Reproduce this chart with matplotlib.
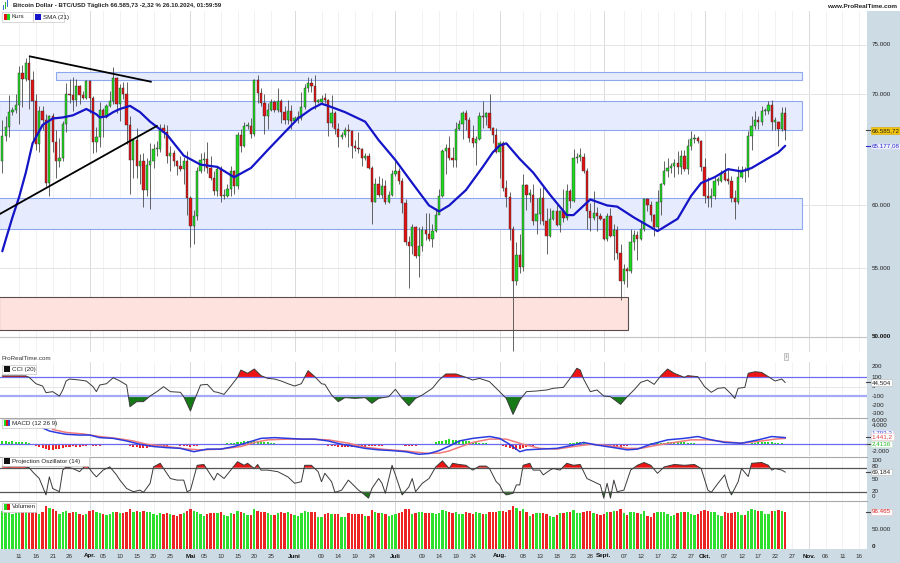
import numpy as np
import matplotlib
matplotlib.use("Agg")
import matplotlib.pyplot as plt
from matplotlib.patches import Rectangle
from matplotlib.ticker import NullLocator
import matplotlib.transforms as mtrans

plt.rcParams['font.family'] = ['Liberation Sans', 'DejaVu Sans']

# ---------------- DATA (BTC/USD daily, 6 Mar 2024 .. 25 Oct 2024, thousand USD) ----------------
first_open = 63.8
close_k = [
    66.1, 66.9, 68.3, 68.5, 69.0, 72.1, 71.5, 73.1, 71.4, 69.4, 65.3, 68.4, 67.6, 61.9, 67.9, 65.5, 63.8, 64.1, 67.2, 70.0, 69.9, 69.5, 70.8, 69.9, 69.7, 71.3,
    69.7, 65.5, 66.0, 68.5, 67.8, 68.9, 69.4, 71.6, 69.1, 70.6, 70.0, 67.1, 63.9, 65.7, 63.4, 63.8, 61.3, 63.5, 63.8, 64.9, 64.9, 66.8, 66.4, 64.3, 64.5, 63.8, 63.4, 63.1, 63.8, 60.6,
    58.3, 59.1, 62.9, 63.9, 64.0, 63.2, 62.3, 61.2, 63.1, 60.8, 60.8, 61.4, 62.9, 61.6, 66.2, 65.2, 67.0, 67.0, 66.3, 71.4, 70.1, 69.2, 67.9, 68.5, 69.3, 68.5, 69.4, 68.3, 67.6, 68.4, 67.5,
    67.7, 67.7, 68.8, 70.6, 71.1, 70.8, 69.3, 69.3, 69.6, 69.5, 67.3, 68.2, 66.7, 66.0, 66.2, 66.6, 66.5, 65.2, 65.0, 64.9, 64.1, 64.3, 63.2, 60.3, 61.8, 60.9, 61.6, 60.3, 60.9, 62.7,
    62.9, 62.1, 60.2, 57.0, 56.7, 58.2, 55.9, 56.7, 58.0, 57.7, 57.3, 57.9, 59.2, 60.8, 64.7, 65.0, 64.1, 63.9, 66.7, 67.2, 68.2, 67.6, 65.9, 65.4, 65.8, 67.9, 67.8, 68.2, 66.8, 66.2, 64.6,
    65.4, 61.5, 60.7, 58.1, 54.0, 56.0, 55.1, 61.7, 60.9, 60.9, 58.7, 59.3, 60.6, 58.7, 57.5, 58.9, 59.5, 58.4, 59.5, 59.0, 61.2, 60.4, 64.1, 64.2, 64.2, 62.9, 59.5, 59.0, 59.4, 59.1, 58.9,
    57.3, 59.1, 57.5, 58.0, 56.2, 54.0, 54.9, 54.8, 57.0, 57.6, 57.3, 58.1, 60.5, 60.0, 59.2, 58.2, 60.3, 61.8, 62.9, 63.2, 63.4, 63.6, 63.3, 64.3, 63.1, 65.2, 65.8, 65.9, 65.6, 63.3,
    60.8, 60.6, 60.8, 62.1, 62.1, 62.8, 62.2, 62.1, 60.6, 60.3, 62.4, 63.0, 62.9, 66.1, 67.0, 67.6, 67.4, 68.4, 68.4, 69.0, 67.4, 67.4, 66.7, 68.2, 66.586]
high_k = [
    67.6, 67.9, 69.9, 68.8, 70.0, 72.8, 72.9, 73.6, 73.8, 72.3, 70.0, 68.9, 68.9, 68.1, 68.0, 68.2, 66.6, 65.9, 67.5, 71.1, 71.5, 71.7, 71.5, 70.9, 70.3, 71.4,
    71.4, 69.8, 66.9, 69.3, 68.7, 69.1, 70.3, 72.7, 71.7, 71.0, 71.2, 71.2, 67.9, 65.8, 66.8, 64.4, 64.5, 64.1, 65.4, 65.3, 65.6, 67.2, 67.2, 67.1, 65.2, 64.8, 63.9, 64.3, 64.2, 64.7,
    60.8, 59.6, 63.3, 64.5, 64.6, 65.5, 64.3, 62.9, 63.3, 63.4, 61.4, 61.8, 63.4, 63.0, 66.4, 66.7, 67.4, 67.4, 67.7, 71.5, 71.9, 70.6, 70.0, 69.2, 69.6, 69.5, 70.6, 69.6, 68.9, 69.5, 69.0,
    67.9, 68.4, 70.2, 71.0, 71.7, 71.6, 71.9, 69.6, 69.9, 70.1, 69.6, 69.9, 68.4, 67.3, 66.4, 66.9, 67.2, 66.6, 65.7, 66.4, 65.0, 64.5, 64.5, 63.4, 62.3, 62.5, 62.3, 62.2, 61.2, 63.0,
    63.8, 63.2, 62.3, 60.5, 57.5, 58.5, 58.3, 58.2, 58.3, 59.4, 59.4, 58.5, 59.8, 61.4, 64.9, 65.3, 66.1, 65.1, 67.4, 67.6, 68.4, 68.5, 67.8, 67.1, 66.1, 68.3, 69.4, 68.3, 70.0, 66.9, 66.8,
    65.6, 65.6, 62.2, 61.1, 58.3, 57.0, 57.7, 62.7, 61.8, 61.4, 61.8, 60.6, 61.5, 61.6, 59.8, 59.8, 59.6, 60.2, 59.6, 61.4, 61.8, 61.4, 64.9, 64.5, 65.0, 64.5, 63.2, 60.2, 61.2, 59.9, 59.4,
    59.0, 59.4, 59.8, 58.5, 58.3, 56.9, 55.3, 55.1, 58.1, 58.0, 57.9, 58.6, 60.6, 60.6, 60.4, 59.3, 61.3, 61.9, 63.8, 64.1, 63.6, 64.0, 64.7, 64.8, 64.8, 65.8, 66.5, 66.3, 66.1, 65.7,
    64.1, 62.4, 61.5, 62.5, 62.4, 63.0, 64.5, 63.2, 62.5, 61.3, 63.4, 63.4, 63.3, 66.5, 67.9, 68.4, 67.9, 68.9, 68.7, 69.4, 69.5, 67.8, 67.5, 68.8, 68.8]
low_k = [
    62.8, 65.6, 66.0, 68.0, 68.2, 67.2, 68.8, 71.3, 68.6, 65.6, 64.8, 64.6, 66.6, 61.6, 60.8, 64.6, 62.3, 63.3, 63.8, 66.4, 69.2, 68.4, 68.9, 69.1, 69.6, 69.6,
    68.2, 64.5, 64.6, 65.1, 66.0, 67.7, 68.8, 69.1, 68.2, 67.5, 69.6, 65.3, 61.0, 62.3, 62.3, 61.8, 59.9, 60.8, 59.7, 63.2, 64.3, 64.6, 65.9, 63.6, 62.9, 63.4, 62.6, 62.9, 61.8, 59.2,
    56.6, 56.9, 58.8, 62.8, 62.9, 62.8, 62.2, 60.9, 60.8, 60.3, 60.5, 60.7, 60.8, 61.0, 61.4, 64.6, 65.1, 66.7, 65.9, 66.1, 69.2, 68.9, 66.3, 66.7, 68.4, 68.3, 68.3, 67.3, 67.2, 67.2, 66.7,
    67.4, 67.3, 67.6, 68.6, 70.2, 70.2, 68.6, 69.2, 69.1, 69.2, 66.1, 66.9, 66.3, 65.1, 65.8, 66.0, 65.1, 64.1, 64.7, 64.5, 63.4, 63.9, 63.1, 58.5, 60.3, 60.7, 60.6, 60.1, 60.2, 60.8,
    62.5, 61.8, 59.4, 56.8, 53.5, 56.1, 55.8, 54.3, 56.3, 57.2, 57.1, 56.6, 57.8, 59.3, 60.7, 62.7, 63.9, 63.3, 63.3, 66.6, 65.8, 66.6, 65.5, 65.1, 63.5, 65.7, 66.8, 67.1, 66.6, 65.4, 64.5,
    62.3, 61.2, 59.9, 57.2, 49.0, 53.7, 54.6, 54.8, 59.6, 60.3, 58.4, 57.7, 58.5, 58.4, 56.1, 57.4, 58.8, 58.3, 57.8, 58.6, 58.8, 59.8, 60.3, 63.6, 63.8, 62.8, 58.1, 57.9, 58.8, 57.9, 58.8,
    57.2, 57.1, 57.4, 55.6, 55.7, 52.6, 53.8, 53.6, 54.6, 56.4, 55.6, 57.2, 57.9, 59.5, 58.7, 57.5, 58.1, 59.2, 61.7, 62.4, 62.8, 62.4, 62.7, 62.7, 62.9, 62.7, 64.8, 65.4, 65.4, 62.9,
    60.2, 59.9, 59.9, 60.5, 61.7, 62.0, 62.1, 61.8, 60.3, 58.9, 60.1, 62.3, 62.0, 62.4, 64.8, 66.7, 66.7, 67.1, 68.0, 68.1, 66.6, 66.6, 65.2, 66.5, 65.7]
volume_k = [
    99, 98, 96, 92, 94, 100, 98, 99, 100, 97, 95, 92, 97,
    113, 106, 104, 100, 92, 96,
    98, 94, 95, 97, 92, 88, 92,
    98, 102, 96, 94, 92, 88, 90, 97, 95, 94, 93, 96, 104, 97, 98,
    96, 99, 95, 97, 92, 88, 94, 91, 94, 92, 88, 86, 90, 93, 100,
    104, 98, 97, 90, 86, 92, 93, 94, 93, 96, 87, 86, 93, 92, 99,
    95, 94, 88, 89, 105, 100, 96, 97, 93, 88, 87, 93, 95, 94, 96, 92,
    88, 86, 94, 98, 97, 96, 97, 84, 83, 90, 94, 92, 91, 90, 82, 84, 93,
    92, 90, 91, 92, 86, 85, 101, 96, 93, 94, 92, 85, 88,
    92, 93, 97, 103, 104, 92, 93, 96, 95, 93, 94, 93, 90, 94, 101, 99, 96,
    94, 96, 90, 92, 95, 93, 92, 96, 93, 90, 91, 96, 95, 97,
    98, 100, 96, 101, 113, 106, 100, 105, 95, 86, 90, 93, 94, 93, 92, 85, 82,
    88, 93, 94, 96, 95, 101, 94, 93, 96, 100, 98, 94, 92, 87,
    92, 96, 97, 98, 100, 105, 93, 88, 95, 96, 94, 92, 98, 86, 84,
    93, 95, 96, 97, 92, 86, 88, 94, 96, 95, 97, 92, 88, 90, 98,
    101, 98, 96, 95, 87, 86, 96, 93, 94, 96, 95, 88, 87, 99, 103, 102,
    100, 98, 90, 92, 99, 98, 101, 99, 96.465]

# SMA(21) (day index from 6 Mar 2024, thousand USD)
sma_day = [0, 1, 3, 5, 7, 9, 12, 15, 18, 21, 25, 28, 29, 31, 33, 35, 38, 41, 44, 49, 54, 59, 64, 69, 74, 79, 84, 88, 92, 95, 97,
           102, 108, 112, 117, 122, 127, 130, 133, 138, 143, 146, 148, 150, 154, 158, 163, 168, 170, 175, 180, 183, 188, 195,
           201, 205, 208, 212, 216, 220, 223, 227, 231, 233]
sma_k = [56.3, 57.2, 59.0, 60.7, 62.8, 65.4, 67.1, 67.7, 67.8, 68.0, 68.6, 68.1, 67.8, 67.9, 68.3, 68.6, 68.9, 68.3, 67.4, 66.2, 64.3, 63.5, 63.3, 62.4, 63.2, 64.8, 66.4, 67.7, 68.6, 69.1, 68.9,
         68.3, 67.4, 65.7, 63.9, 61.9, 60.0, 59.5, 60.0, 61.3, 63.3, 64.6, 65.2, 65.4, 64.0, 62.8, 60.9, 59.2, 59.2, 60.5, 60.0, 59.9, 59.0, 57.9,
         58.9, 60.8, 61.9, 62.4, 63.1, 62.9, 63.2, 63.9, 64.6, 65.18]

# CCI(20)
cci_day = [0, 7, 8, 10, 12, 13, 15, 17, 18, 19, 20, 23, 25, 27, 28, 29, 31, 33, 35, 37, 38, 40, 42, 44, 46, 48, 50, 53, 54, 56,
           57, 59, 61, 63, 64, 66, 68, 70, 71, 73, 75, 77, 79, 81, 83, 85, 87, 89, 91, 93, 95, 96, 98, 100, 102, 105, 108, 110, 112, 115,
           117, 119, 121, 123, 125, 128, 130, 132, 135, 138, 140, 142, 145, 148, 150, 152, 154, 156, 159, 162, 164, 167, 169, 171, 172, 173,
           175, 177, 179, 181, 184, 186, 188, 190, 192, 194, 196, 198, 200, 203, 204, 207, 209, 211, 213, 215, 217, 218, 219, 221,
           222, 224, 226, 228, 230, 232, 233]
cci_val = [115, 115, 100, 32, 7, -64, -53, -100, -35, 61, 82, 71, 61, 0, -53, 18, 32, 96, 61, 18, -214, -160, -160, -100, -53, 0, -53, -60, -107, -260,
           -160, 18, 25, -53, -60, -82, 7, 100, 178, 143, 189, 118, 89, 82, 61, 32, 7, 32, 171, 107, 32, 25, -89, -160, -117, -125, -117, -178, -125, -107,
           -28, -125, -203, -125, -89, -17, 71, 136, 136, 100, 71, 89, 54, -53, -125, -296, -142, -53, -46, -35, -17, -7, 89, 197, 178, 82,
           -53, -35, -100, -107, -189, -107, -35, 46, 71, 25, 118, 189, 143, 100, 118, 107, 0, -60, -17, -10, -82, -125, -17, -7,
           143, 160, 153, 107, 61, 82, 45]

# MACD(12,26,9) in thousand
macd_day = [12, 14, 16, 19, 23, 26, 29, 33, 37, 41, 45, 49, 53, 57, 61, 65, 69, 73, 77, 81, 85, 89, 93, 97, 101, 105, 108, 112, 116, 120,
            124, 127, 130, 133, 136, 140, 145, 148, 151, 154, 156, 160, 165, 170, 173, 177, 182, 186, 189, 193, 198, 203, 207, 210, 215, 220, 225, 229, 233]
macd_val = [4.4, 3.6, 3.2, 2.7, 2.5, 2.5, 1.8, 1.6, 0.9, 0.0, -0.6, -0.9, -1.1, -2.0, -1.3, -1.3, -0.6, 0.5, 1.6, 1.8, 1.6, 1.4, 1.4, 0.9, 0.0, -0.6, -1.1, -1.5, -1.7, -2.0,
            -2.7, -2.5, -1.7, -0.5, 0.9, 1.6, 2.1, 1.6, 0.0, -2.0, -1.5, -1.3, -1.1, -0.2, 0.5, -0.2, -0.9, -1.5, -1.3, 0.0, 1.2, 1.6, 2.1, 1.4, 0.5, 0.3, 1.2, 2.1, 1.8]
signal_day = [15, 19, 24, 29, 34, 39, 43, 49, 55, 59, 65, 71, 75, 79, 85, 91, 97, 103, 108, 114, 120, 126, 130, 133, 135, 140, 145, 150, 155, 160,
              165, 170, 175, 180, 186, 190, 195, 200, 205, 210, 215, 220, 226, 230, 233]
signal_val = [4.0, 3.2, 2.8, 2.1, 1.6, 0.9, 0.0, -0.6, -1.3, -1.5, -1.3, -0.6, 0.5, 1.2, 1.4, 1.4, 1.2, 0.3, -0.8, -1.4, -1.8, -2.4, -2.4, -1.8, -1.1, 0.5, 1.4, 1.4, 0.0, -1.1,
              -1.3, -0.6, 0.0, -0.3, -1.1, -1.1, -0.2, 0.5, 1.2, 1.2, 0.7, 0.3, 0.9, 1.4, 1.6]
hist_val = [
    0.8, 0.8, 0.7, 0.8, 0.7, 0.7, 0.6, 0.5, 0.3, 0.1,
    -0.5, -0.8, -1.1, -1.3, -1.5, -1.5, -1.4, -1.2, -1.0,
    -0.7, -0.6, -0.5, -0.6, -0.7, -0.5, -0.4,
    -0.3, -0.4, -0.5, -0.4, -0.3, -0.3, -0.2, -0.1, -0.1, -0.2, -0.2, -0.3, -0.5, -0.6,
    -0.8, -0.9, -1.0, -0.9, -0.8, -0.7, -0.6, -0.5,
    -0.4, -0.4, -0.3, -0.3, -0.3, -0.4, -0.4, -0.5, -0.6, -0.5, -0.4,
    -0.3, -0.2, -0.1, 0.1, 0.15, 0.1, 0.1, 0.2, 0.3, 0.3, 0.4,
    0.6, 0.7, 0.8, 0.8, 0.9, 0.9, 0.8, 0.7, 0.6, 0.5,
    0.4, 0.3, 0.2, 0.2, 0.1, 0.1, 0.1, 0.05, -0.05, -0.1,
    -0.1, -0.1, -0.2, -0.2, -0.2, -0.3, -0.3, -0.4, -0.4,
    -0.5, -0.6, -0.6, -0.7, -0.7, -0.8, -0.7, -0.7, -0.6, -0.6,
    -0.5, -0.5, -0.4, -0.4, -0.4, -0.3, -0.3, -0.3, -0.3, -0.3,
    -0.3, -0.4, -0.4, -0.4, -0.4, -0.3, -0.3, -0.2, -0.1,
    0.2, 0.5, 0.8, 1.0, 1.2, 1.3,
    1.2, 1.1, 1.0, 0.9, 0.8, 0.8,
    0.6, 0.5, 0.4, 0.4, 0.3, 0.2, 0.1, 0.0,
    -0.2, -0.4, -0.6, -0.9, -1.2, -1.5, -1.3, -1.0, -0.7,
    -0.5, -0.4, -0.3, -0.3, -0.2, -0.2, -0.1, -0.1, 0.0, 0.1,
    0.2, 0.2, 0.3, 0.4, 0.5, 0.5, 0.4, 0.3, 0.1, -0.1,
    -0.2, -0.3, -0.4, -0.4, -0.5, -0.6, -0.6, -0.6, -0.5, -0.4, -0.3, -0.2, -0.1,
    0.1, 0.2, 0.2, 0.3, 0.3, 0.4, 0.4, 0.4,
    0.5, 0.5, 0.5, 0.6, 0.5, 0.5, 0.4, 0.4, 0.3, 0.2, 0.1, -0.1,
    -0.2, -0.3, -0.3, -0.3, -0.3, -0.3, -0.2, -0.2, -0.2, -0.2, -0.1, 0.0,
    0.2, 0.3, 0.4, 0.5, 0.5, 0.6, 0.5, 0.5, 0.4, 0.3, 0.3, 0.2]

# Projection Oscillator (14)
proj_day = [0, 1, 2, 3, 4, 5, 6, 7, 8, 9, 11, 13, 14, 15, 17, 18, 19, 21, 23, 25,
            27, 28, 30, 32, 34, 35, 37, 39, 41, 42, 44, 45, 47, 48, 50, 52, 54, 55, 56, 58,
            60, 62, 63, 64, 66, 68, 70, 72, 73, 75, 76, 77, 79, 82, 85, 87, 89, 90, 92, 94,
            95, 96, 98, 99, 101, 103, 106, 107, 109, 110, 112, 113, 114, 116, 117, 119, 121, 122, 123, 125,
            127, 129, 131, 133, 134, 136, 138, 140, 142, 144, 145, 147, 148, 149, 150, 152, 153, 154, 155, 157,
            158, 160, 161, 163, 164, 166, 168, 170, 172, 174, 176, 178, 179, 180, 181, 182, 183, 185, 187, 189,
            191, 193, 195, 197, 200, 203, 206, 208, 210, 211, 213, 215, 216, 217, 219, 220, 222, 223, 226, 228,
            229, 230, 232, 233]
proj_val = [84, 83, 82, 84, 85, 83, 84, 82, 80, 70, 53, 12, 57, 28, 20, 74, 82, 78, 70, 88,
            66, 57, 74, 82, 62, 49, 28, 20, 24, 18, 41, 82, 91, 78, 53, 49, 49, 20, 24, 86,
            88, 62, 49, 66, 53, 74, 95, 86, 91, 78, 88, 74, 74, 70, 57, 41, 45, 86, 86, 70,
            45, 66, 45, 18, 24, 49, 24, 18, 4, 28, 53, 41, 16, 86, 62, 12, 32, 53, 20, 41,
            53, 82, 97, 78, 91, 88, 86, 74, 84, 84, 78, 45, 37, 20, 12, 16, 37, 37, 86, 91,
            74, 74, 62, 74, 78, 74, 91, 86, 88, 53, 45, 37, 4, 41, 4, 49, 20, 24, 74, 86,
            93, 86, 66, 82, 88, 86, 88, 78, 24, 18, 41, 62, 32, 12, 45, 78, 58, 91, 93, 86,
            74, 78, 74, 69]

# x axis ticks (day index from 6 Mar 2024)
tick_days = [5, 10, 15, 20, 26, 30, 35, 40, 45, 50, 56, 60, 65, 70, 75, 80, 87, 95, 100, 105, 110,
             117, 125, 130, 135, 140, 148, 155, 160, 165, 170, 175, 179, 185, 190, 195, 200, 205,
             209, 215, 220, 225, 230, 235, 240, 245, 250, 255]
tick_labels = ["11", "16", "21", "26", "Apr.", "05", "10", "15", "20", "25", "Mai", "05", "10", "15", "20", "25",
               "Juni", "09", "14", "19", "24", "Juli", "09", "14", "19", "24", "Aug.", "08", "13", "18", "23", "28",
               "Sept.", "07", "12", "17", "22", "27", "Okt.", "07", "12", "17", "22", "27", "Nov.", "06", "11", "16"]
month_names = ["Apr.", "Mai", "Juni", "Juli", "Aug.", "Sept.", "Okt.", "Nov."]

# drawn zones (day range, price range in thousand)
zone_thin = (16, 238, 71.4, 72.2)
zone_high = (-1, 238, 66.6, 69.4)
zone_low = (-1, 238, 58.1, 60.65)
zone_red = (-1, 186.2, 50.47, 52.8)
trend_down = ([8.2, 44.2], [73.8, 71.25])
trend_up = ([-0.68, 46.0], [59.3, 67.0])

title = "Bitcoin Dollar - BTC/USD Täglich 66.585,73 -2,32 % 26.10.2024, 01:59:59"

# ---------------- FIGURE ----------------
W, H = 900, 563
PXR = 867
X0, X1 = -0.685, 257.35
FS = 4.5

fig = plt.figure(figsize=(W / 100, H / 100), dpi=100)
fig.patch.set_facecolor('#cddbe4')


def rect(x0, y0, x1, y1):
    return [x0 / W, 1 - y1 / H, (x1 - x0) / W, (y1 - y0) / H]


def fy(y):
    return 1 - y / H


def fx(x):
    return x / W


fig.add_artist(Rectangle((0, fy(11)), 1, 11 / H, transform=fig.transFigure, fc='white', ec='none', zorder=-2))
fig.add_artist(Rectangle((0, fy(549)), PXR / W, (549 - 11) / H, transform=fig.transFigure, fc='white', ec='none', zorder=-2))


def make_panel(y0, y1, ylim, log=False):
    ax = fig.add_axes(rect(0, y0, PXR, y1))
    if log:
        ax.set_yscale('log')
    ax.set_xlim(X0, X1)
    ax.set_ylim(*ylim)
    ax.xaxis.set_major_locator(NullLocator())
    ax.xaxis.set_minor_locator(NullLocator())
    ax.yaxis.set_major_locator(NullLocator())
    ax.yaxis.set_minor_locator(NullLocator())
    for s in ax.spines.values():
        s.set_visible(False)
    ax.set_facecolor('white')
    for d, lb in zip(tick_days, tick_labels):
        if lb in month_names:
            ax.axvline(d, color='#dadada', lw=0.7, zorder=0)
        else:
            ax.axvline(d, color='#f0f0f0', lw=0.6, zorder=0)
    return ax


ax = make_panel(11, 352, (48.95, 78.6), log=True)
ax_cci = make_panel(362, 417, (-324, 264))
ax_macd = make_panel(418, 456, (-3.16, 7.1))
ax_proj = make_panel(457, 500, (-0.75, 106.75))
ax_vol = make_panel(501, 548.5, (0, 125))

# separators
for yy in (417.5, 456.5, 500.5):
    fig.add_artist(plt.Line2D([0, PXR / W], [fy(yy), fy(yy)], transform=fig.transFigure, color='#a8a8a8', lw=0.8))

# ---- main price panel ----
for v in (55, 60, 70, 75):
    ax.axhline(v, color='#e4e4e4', lw=0.7, zorder=0)
ax.axhline(50, color='#c4c4c4', lw=0.8, zorder=0)

for (x0, x1, y0, y1) in (zone_thin, zone_high, zone_low):
    ax.add_patch(Rectangle((x0, y0), x1 - x0, y1 - y0, fc='#e6ecfd', ec='#8ea8f0', lw=0.8, zorder=1))
x0, x1, y0, y1 = zone_red
ax.add_patch(Rectangle((x0, y0), x1 - x0, y1 - y0, fc='#fde2dd', ec='#5a4e4c', lw=0.8, zorder=1))

c = np.array(close_k)
h = np.array(high_k)
lo = np.array(low_k)
o = np.concatenate([[first_open], c[:-1]])
days = np.arange(len(c))
up = c >= o
ax.vlines(days, lo, h, color='#4a4a4a', lw=0.6, zorder=3)
bot = np.minimum(o, c)
top = np.maximum(np.maximum(o, c), bot * 1.0018)
ax.bar(days, top - bot, bottom=bot, width=0.68, color=np.where(up, '#1fd81f', '#e01414'),
       edgecolor='#2e2e2e', linewidth=0.3, zorder=4)

ax.plot(sma_day, sma_k, color='#1414c8', lw=1.6, zorder=5, solid_capstyle='round')
ax.plot(*trend_down, color='black', lw=1.3, zorder=6)
ax.plot(*trend_up, color='black', lw=1.3, zorder=6)


def rlabel(a, v, s, color='#222222', bold=False, box=None, dash=None):
    kw = dict(transform=a.get_yaxis_transform(), fontsize=FS, va='center', ha='left', color=color, clip_on=False)
    if bold:
        kw['fontweight'] = 'bold'
    if box is not None:
        kw['bbox'] = dict(boxstyle='square,pad=0.12', fc=box[0], ec=box[1], lw=0.4)
    a.text(1.0055, v, s, **kw)
    if dash is not None:
        a.plot([0.999, 1.004], [v, v], transform=a.get_yaxis_transform(), color=dash, lw=0.8, clip_on=False)


for v, s in ((75, "75.000"), (70, "70.000"), (60, "60.000"), (55, "55.000")):
    rlabel(ax, v, s)
rlabel(ax, 50, "50.000", color='#111111', bold=True)
rlabel(ax, c[-1], "66.585,72", color='#222222', box=('#f2c40c', '#d8a800'), dash='#444444')
rlabel(ax, sma_k[-1], "65.177,08", color='#2a2ad0', box=('#eef0fb', '#d0d4f0'), dash='#2a2ad0')

# header
fig.text(fx(13), fy(6), title, fontsize=4.4, fontweight='bold', color='#222222', va='center', ha='left')
fig.text(fx(897), fy(6), "www.ProRealTime.com", fontsize=4.6, fontweight='bold', color='#222222', va='center', ha='right')
for i, col in enumerate(['#3a6fd8', '#2fb82f', '#3a6fd8']):
    fig.add_artist(Rectangle((fx(3 + i * 2), fy(10 - i * 1.5)), 1.2 / W, (5 + i) / H, transform=fig.transFigure,
                             fc=col, ec='none'))

# legend
fig.add_artist(Rectangle((fx(2), fy(22)), 31 / W, 10 / H, transform=fig.transFigure, fc='white', ec='#c8c8c8', lw=0.5))
fig.add_artist(Rectangle((fx(33), fy(22)), 31 / W, 10 / H, transform=fig.transFigure, fc='white', ec='#c8c8c8', lw=0.5))
fig.add_artist(Rectangle((fx(3.5), fy(20)), 3 / W, 6 / H, transform=fig.transFigure, fc='#e01414', ec='none'))
fig.add_artist(Rectangle((fx(6.5), fy(20)), 3 / W, 6 / H, transform=fig.transFigure, fc='#1fd81f', ec='none'))
fig.text(fx(11.5), fy(17), "Kurs", fontsize=FS, color='#222222', va='center')
fig.add_artist(Rectangle((fx(35), fy(20)), 6 / W, 6 / H, transform=fig.transFigure, fc='#1414c8', ec='none'))
fig.text(fx(43), fy(17), "SMA (21)", fontsize=FS, color='#222222', va='center')

fig.text(fx(1), fy(358), "ProRealTime.com", fontsize=FS, color='#333333', va='center')
fig.text(fx(786), fy(356.5), "i", fontsize=3.6, color='#666666', va='center', ha='center',
         bbox=dict(boxstyle='square,pad=0.25', fc='#f2f2f2', ec='#999999', lw=0.4))


def panel_header(y, x1, text, icon):
    fig.add_artist(Rectangle((fx(2), fy(y + 4.5)), (x1 - 2) / W, 9 / H, transform=fig.transFigure,
                             fc='white', ec='#c4c4c4', lw=0.5, zorder=5))
    n = len(icon)
    for i, col in enumerate(icon):
        fig.add_artist(Rectangle((fx(3.5 + i * 6 / n), fy(y + 3)), (6 / n) / W, 6 / H, transform=fig.transFigure,
                                 fc=col, ec='none', zorder=6))
    fig.text(fx(11.5), fy(y), text, fontsize=FS, color='#222222', va='center', zorder=7)


panel_header(369, 36, "CCI (20)", ['#111111'])
panel_header(423, 55, "MACD (12 26 9)", ['#1fd81f', '#e01414', '#3344dd'])
panel_header(461, 89, "Projection Oszillator (14)", ['#111111'])
panel_header(507, 36, "Volumen", ['#1fd81f', '#e01414'])

# ---- CCI ----
cd = np.array(cci_day, dtype=float)
cv = np.array(cci_val, dtype=float)
ax_cci.axhline(0, color='#e2e2e2', lw=0.6, zorder=0)
ax_cci.fill_between(cd, cv, 100, where=cv >= 100, interpolate=True, color='#ee1414', lw=0, zorder=2)
ax_cci.fill_between(cd, cv, -100, where=cv <= -100, interpolate=True, color='#157a15', lw=0, zorder=2)
ax_cci.axhline(100, color='#6d6df2', lw=0.9, zorder=3)
ax_cci.axhline(-100, color='#a4aaf6', lw=1.6, zorder=3)
ax_cci.plot(cd, cv, color='#3a3a3a', lw=0.7, zorder=4)
for v, s in ((211, "200"), (100, "100"), (0, "0"), (-100, "-100"), (-200, "-200"), (-285, "-300")):
    rlabel(ax_cci, v, s)
rlabel(ax_cci, cci_val[-1], "44,504", box=('white', '#bbbbbb'), dash='#444444')

# ---- MACD ----
hv = np.array(hist_val)
ax_macd.bar(days, hv, width=0.6, color=np.where(hv >= 0, '#22dd22', '#ee2222'), lw=0, zorder=2)
ax_macd.axhline(0, color='#6a6aee', lw=0.9, zorder=3)
ax_macd.plot(signal_day, signal_val, color='#f07a7a', lw=1.1, zorder=4)
ax_macd.plot(macd_day, macd_val, color='#2a3ce0', lw=1.1, zorder=5)
rlabel(ax_macd, 6.4, "6.000")
rlabel(ax_macd, 4.95, "4.000")
rlabel(ax_macd, 3.05, "1.793,3", color='#3344dd', box=('white', '#d0d0f0'))
rlabel(ax_macd, 2.05, "1.441,2", color='#e04444', box=('white', '#f0c8c8'), dash='#444444')
rlabel(ax_macd, 0.08, "2,4136", color='#22bb22', box=('white', '#c8e8c8'), dash='#444444')
rlabel(ax_macd, -2.0, "-2.000")

# ---- Projection oscillator ----
pd_ = np.array(proj_day, dtype=float)
pv = np.array(proj_val, dtype=float)
ax_proj.fill_between(pd_, pv, 80, where=pv >= 80, interpolate=True, color='#ee1414', lw=0, zorder=2)
ax_proj.fill_between(pd_, pv, 20, where=pv <= 20, interpolate=True, color='#157a15', lw=0, zorder=2)
ax_proj.axhline(80, color='#555555', lw=0.9, zorder=3)
ax_proj.axhline(20, color='#555555', lw=0.9, zorder=3)
ax_proj.plot(pd_, pv, color='#3a3a3a', lw=0.7, zorder=4)
for v, s in ((99, "100"), (84, "80"), (50, "50"), (21, "20"), (7, "0")):
    rlabel(ax_proj, v, s)
rlabel(ax_proj, proj_val[-1], "69,184", box=('white', '#bbbbbb'), dash='#444444')

# ---- Volume ----
vv = np.array(volume_k)
ax_vol.bar(days, vv, width=0.7, color=np.where(up, '#2ee02e', '#ee2424'), lw=0, zorder=2)
rlabel(ax_vol, vv[-1], "96.465", color='#e02020', box=('white', '#f0c0c0'), dash='#444444')
rlabel(ax_vol, 50, "50.000")
rlabel(ax_vol, 4.7, "0", bold=True)

# ---- x labels ----
trans = mtrans.blended_transform_factory(ax_vol.transData, fig.transFigure)
for d, lb in zip(tick_days, tick_labels):
    if lb in month_names:
        ax_vol.text(d, fy(556), lb, transform=trans, ha='center', va='center', fontsize=FS,
                    fontweight='bold', color='#111111', clip_on=False)
    else:
        ax_vol.text(d, fy(556), lb, transform=trans, ha='center', va='center', fontsize=FS,
                    color='#333333', clip_on=False)

fig.savefig("out.png", dpi=100, facecolor=fig.get_facecolor())
